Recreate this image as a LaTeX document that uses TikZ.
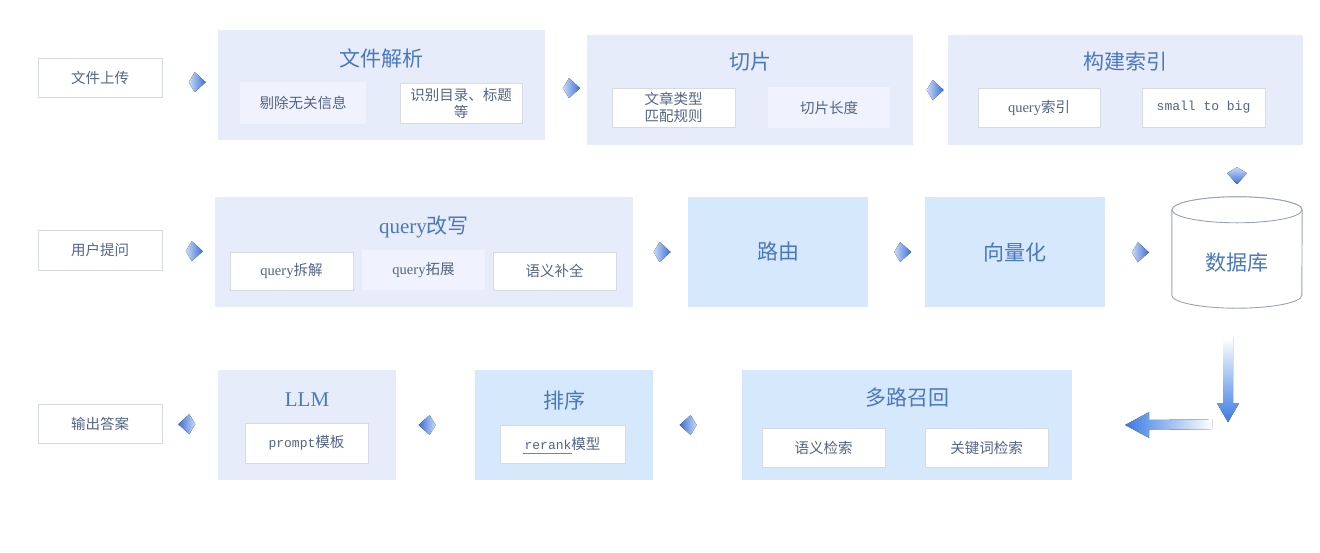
\documentclass[tikz,border=0pt]{standalone}
\usepackage{fontspec}
\setmainfont{Noto Sans CJK SC}
\newfontfamily\lat{Liberation Serif}
\newfontfamily\mono{Liberation Mono}
\usetikzlibrary{calc,shadows}
\definecolor{lav}{HTML}{E7ECFB}
\definecolor{lblue}{HTML}{D6E8FC}
\definecolor{sublight}{HTML}{F0F3FD}
\definecolor{subline}{HTML}{D5DAE5}
\definecolor{titlec}{HTML}{4A78BF}
\definecolor{textc}{HTML}{536585}
\definecolor{chevL}{HTML}{C9DAF6}
\definecolor{chevD}{HTML}{3A6FD6}
\definecolor{bigarrow}{HTML}{3B7BE3}
\definecolor{dbline}{HTML}{9AA3B5}
\tikzset{
  bigbox/.style={rectangle, fill=lav, inner sep=0pt},
  bluebox/.style={rectangle, fill=lblue, inner sep=0pt},
  titletext/.style={text=titlec, font=\fontsize{21}{24}\selectfont, inner sep=0pt},
  whitebox/.style={rectangle, fill=white, draw=subline, line width=0.6pt,
    minimum width=123pt, minimum height=39pt, text=textc,
    font=\fontsize{14.5}{17}\selectfont, align=center, inner sep=0pt,
    drop shadow={opacity=0.12, shadow xshift=1pt, shadow yshift=-1.2pt}},
  lightbox/.style={rectangle, fill=sublight, minimum width=123pt, minimum height=40pt,
    text=textc, font=\fontsize{14.5}{17}\selectfont, align=center, inner sep=0pt},
}
\newcommand\chevright[1]{\fill[left color=chevL, right color=chevD, shift={($#1$)}]
  (-8,0) -- (-2,-10) -- (9,0) -- (-2,10) -- cycle;}
\newcommand\chevleft[1]{\fill[left color=chevD, right color=chevL, shift={($#1$)}]
  (8,0) -- (2,-10) -- (-9,0) -- (2,10) -- cycle;}
\newcommand\chevdown[1]{\fill[top color=chevL, bottom color=chevD, shift={($#1$)}]
  (0,-8) -- (10,-2) -- (0,9) -- (-10,-2) -- cycle;}
\begin{document}
\begin{tikzpicture}[x=1pt,y=-1pt]
\useasboundingbox (0,0) rectangle (1320,552);
\fill[white] (0,0) rectangle (1320,552);

% ---------- Row 1 ----------
\node[whitebox, minimum width=124pt] (upload) at (100,77.5) {文件上传};

\node[bigbox, minimum width=327pt, minimum height=110pt] (parse) at (381.5,85) {};
\node[titletext] (parseT) at (381.5,58) {文件解析};
\node[lightbox, minimum width=126pt, minimum height=42pt] (p1) at (303,103) {剔除无关信息};
\node[whitebox, minimum width=122pt, minimum height=40pt] (p2) at (461,103) {识别目录、标题\\等};

\node[bigbox, minimum width=326pt, minimum height=110pt] (chunk) at (750,90) {};
\node[titletext] (chunkT) at (750,62) {切片};
\node[whitebox] (c1) at (673.5,107.5) {文章类型\\匹配规则};
\node[lightbox, minimum width=122pt, minimum height=41pt] (c2) at (829,107.5) {切片长度};

\node[bigbox, minimum width=355pt, minimum height=110pt] (index) at (1125.5,90) {};
\node[titletext] (indexT) at (1125.5,62) {构建索引};
\node[whitebox, minimum width=122pt] (i1) at (1039,107.5) {{\lat query}索引};
\node[whitebox] (i2) at (1203.5,107.5) {{\mono\fontsize{13}{15}\selectfont small to big}};

% ---------- Row 2 ----------
\node[whitebox, minimum width=124pt, minimum height=40pt] (ask) at (100,250) {用户提问};

\node[bigbox, minimum width=418pt, minimum height=110pt] (rewrite) at (424,252) {};
\node[titletext] (rewriteT) at (424,227) {{\lat\fontsize{21}{24}\selectfont query}改写};
\node[whitebox, minimum height=38pt] (r1) at (291.5,271) {{\lat query}拆解};
\node[lightbox] (r2) at (423.5,270) {{\lat query}拓展};
\node[whitebox, minimum height=38pt] (r3) at (554.5,271) {语义补全};

\node[bluebox, minimum width=180pt, minimum height=110pt, text=titlec,
      font=\fontsize{21}{24}\selectfont] (route) at (778,252) {路由};
\node[bluebox, minimum width=180pt, minimum height=110pt, text=titlec,
      font=\fontsize{21}{24}\selectfont] (vector) at (1015,252) {向量化};

\node[rectangle, minimum width=130pt, minimum height=111pt, inner sep=0pt] (db) at (1237,252.5) {};
\draw[dbline, line width=0.9pt, fill=white]
  ([yshift=-13pt]db.north west) -- ([yshift=13pt]db.south west)
  arc[start angle=180, end angle=360, x radius=65pt, y radius=13pt]
  -- ([yshift=-13pt]db.north east)
  arc[start angle=0, end angle=180, x radius=65pt, y radius=13pt] -- cycle;
\draw[dbline, line width=0.9pt, fill=white] ([yshift=-13pt]db.north) ellipse[x radius=65pt, y radius=13pt];
\node[text=titlec, font=\fontsize{21}{24}\selectfont, inner sep=0pt] (dbT) at ([yshift=-10pt]db.center) {数据库};

% ---------- Row 3 ----------
\node[whitebox, minimum width=124pt] (out) at (100,423.5) {输出答案};

\node[bigbox, minimum width=178pt, minimum height=110pt] (llm) at (307,425) {};
\node[titletext] (llmT) at (307,400) {{\lat\fontsize{21}{24}\selectfont LLM}};
\node[whitebox, minimum height=40pt] (l1) at (306.5,443) {{\mono\fontsize{13}{15}\selectfont prompt}模板};

\node[bluebox, minimum width=178pt, minimum height=110pt] (rank) at (564,425) {};
\node[titletext] (rankT) at (564,400) {排序};
\node[whitebox, minimum width=125pt, minimum height=38pt] (k1) at (562.5,444) {{\mono\fontsize{13}{15}\selectfont rerank}模型};
\draw[red!70, line width=0.8pt] ($(k1.center)+(-40,9.5)$) -- ($(k1.center)+(9,9.5)$);

\node[bluebox, minimum width=330pt, minimum height=110pt] (recall) at (907,425) {};
\node[titletext] (recallT) at (907,398) {多路召回};
\node[whitebox] (m1) at (823.5,447.5) {语义检索};
\node[whitebox] (m2) at (986.5,447.5) {关键词检索};

% ---------- connectors ----------
\chevright{(upload.east)!0.62!(parse.west)}
\chevright{(parse.east)!0.62!(chunk.west)}
\chevright{(chunk.east)!0.62!(index.west)}
\chevdown{(index.south)+(111.5,30)}
\chevright{(ask.east)!0.6!(rewrite.west)}
\chevright{(rewrite.east)!0.52!(route.west)}
\chevright{(route.east)!0.6!(vector.west)}
\chevright{(vector.east)!0.52!(db.west)}
\chevleft{(out.east)!0.45!(llm.west)}
\chevleft{(llm.east)!0.4!(rank.west)}
\chevleft{(rank.east)!0.4!(recall.west)}

% big L-shaped flow from database to recall
\coordinate (dtop) at ($(db.south)+(-9,30)$);
\coordinate (dtip) at ($(db.south)+(-9,114)$);
\fill[top color=white, bottom color=bigarrow]
  ($(dtop)+(-5,0)$) -- ($(dtop)+(5,0)$) -- ($(dtip)+(5,-19)$) -- ($(dtip)+(11,-19)$)
  -- (dtip) -- ($(dtip)+(-11,-19)$) -- ($(dtip)+(-5,-19)$) -- cycle;
\coordinate (ltail) at ($(dtip)+(-16,2)$);
\coordinate (ltip) at ($(recall.east)+(53,0)$);
\fill[left color=bigarrow, right color=white]
  ($(ltail)+(0,-5)$) -- ($(ltip)+(24,-5)$) -- ($(ltip)+(24,-13)$) -- (ltip)
  -- ($(ltip)+(24,13)$) -- ($(ltip)+(24,5)$) -- ($(ltail)+(0,5)$) -- cycle;
\end{tikzpicture}
\end{document}
